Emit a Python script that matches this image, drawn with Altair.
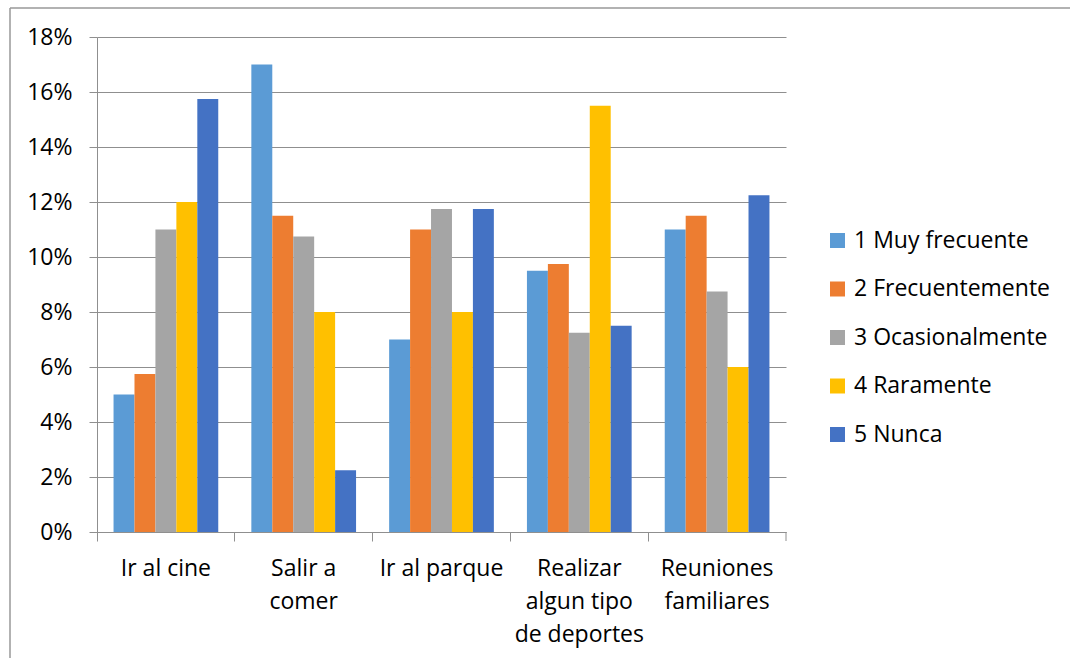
import altair as alt
import pandas as pd

# Activities (x categories); "\n" marks a line break in the axis label
activities = [
    "Ir al cine",
    "Salir a\ncomer",
    "Ir al parque",
    "Realizar\nalgun tipo\nde deportes",
    "Reuniones\nfamiliares",
]

frequencies = [
    "1 Muy frecuente",
    "2 Frecuentemente",
    "3 Ocasionalmente",
    "4 Raramente",
    "5 Nunca",
]

colors = ["#5B9BD5", "#ED7D31", "#A5A5A5", "#FFC000", "#4472C4"]

# Percentages per frequency level, one value per activity
muy_frecuente = [5.0, 17.0, 7.0, 9.5, 11.0]
frecuentemente = [5.75, 11.5, 11.0, 9.75, 11.5]
ocasionalmente = [11.0, 10.75, 11.75, 7.25, 8.75]
raramente = [12.0, 8.0, 8.0, 15.5, 6.0]
nunca = [15.75, 2.25, 11.75, 7.5, 12.25]

series_values = [muy_frecuente, frecuentemente, ocasionalmente, raramente, nunca]

rows = []
for name, vals in zip(frequencies, series_values):
    for act, v in zip(activities, vals):
        rows.append({"actividad": act, "frecuencia": name, "porcentaje": v})
df = pd.DataFrame(rows)

W, H = 689, 495
FONT = "Open Sans"
FS = 23
GRID = "#8f8f8f"

bars = alt.Chart(df).mark_bar().encode(
    x=alt.X(
        "actividad:N",
        sort=activities,
        scale=alt.Scale(paddingInner=0, paddingOuter=0),
        axis=alt.Axis(
            title=None,
            labelAngle=0,
            labelExpr="split(datum.label, '\\n')",
            labelFont=FONT,
            labelFontSize=FS,
            labelColor="#000000",
            labelLineHeight=33,
            labelPadding=16,
            bandPosition=0,
            tickSize=9,
            tickColor=GRID,
            domainColor=GRID,
            grid=False,
        ),
    ),
    xOffset=alt.XOffset(
        "frecuencia:N",
        sort=frequencies,
        scale=alt.Scale(paddingInner=0, paddingOuter=0.79),
    ),
    y=alt.Y(
        "porcentaje:Q",
        scale=alt.Scale(domain=[0, 18], nice=False),
        axis=alt.Axis(
            title=None,
            values=[0, 2, 4, 6, 8, 10, 12, 14, 16, 18],
            labelExpr="datum.value + '%'",
            labelFont=FONT,
            labelFontSize=FS,
            labelColor="#000000",
            labelPadding=17,
            tickSize=8,
            tickColor=GRID,
            domainColor=GRID,
            gridColor=GRID,
            gridWidth=1,
        ),
    ),
    color=alt.Color(
        "frecuencia:N",
        sort=frequencies,
        scale=alt.Scale(domain=frequencies, range=colors),
        legend=alt.Legend(
            title=None,
            orient="none",
            legendX=729,
            legendY=192,
            symbolType="square",
            symbolSize=225,
            symbolStrokeWidth=0,
            labelFont=FONT,
            labelFontSize=FS,
            labelColor="#000000",
            labelOffset=5,
            labelLimit=0,
            rowPadding=24.5,
        ),
    ),
)

# Closing tick at the right end of the category axis
end_tick = alt.Chart(pd.DataFrame({"k": [0]})).mark_rule(color=GRID).encode(
    x=alt.value(W), y=alt.value(H), y2=alt.value(H + 9)
)

# Outer frame: top and left edges
frame_top = alt.Chart(pd.DataFrame({"k": [0]})).mark_rule(color="#999999", strokeWidth=1.5).encode(
    x=alt.value(-87), x2=alt.value(1070 - 97), y=alt.value(-29)
)
frame_left = alt.Chart(pd.DataFrame({"k": [0]})).mark_rule(color="#999999", strokeWidth=1.5).encode(
    x=alt.value(-87), y=alt.value(-29), y2=alt.value(658 - 37)
)

chart = (
    alt.layer(bars, end_tick, frame_top, frame_left)
    .properties(
        width=W,
        height=H,
        autosize=alt.AutoSizeParams(type="none"),
        padding={"left": 97, "top": 37, "right": 284, "bottom": 126},
        background="#ffffff",
    )
    .configure_view(stroke=None)
)

chart.save("out.html", embed_options={"renderer": "svg", "actions": False})
